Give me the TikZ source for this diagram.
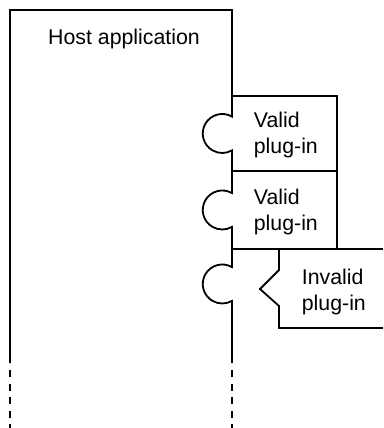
\documentclass[tikz,border=0pt]{standalone}
\usepackage{fontspec}
\setmainfont{Liberation Sans}
\begin{document}
\begin{tikzpicture}[x=1pt,y=-1pt,line width=1.8pt,font=\fontsize{21.3}{26}\selectfont,
    txt/.style={inner sep=0pt,align=left,anchor=base west},
    tail/.style={dash pattern=on 7pt off 6.5pt}]
    \useasboundingbox (0,0) rectangle (383,428);
    % host application with three sockets
    \draw (10,363) -- (10,10) -- (232,10)
        -- (232,116.6) arc[start angle=300,end angle=60,radius=19.5]
        -- (232,193.1) arc[start angle=300,end angle=60,radius=19.5]
        -- (232,267.1) arc[start angle=300,end angle=60,radius=19.5]
        -- (232,363);
    \draw[tail] (10,370) -- (10,428);
    \draw[tail] (232,370) -- (232,428);
    \node (host) [anchor=base] at (124,45) {Host application};
    % plug-ins
    \draw (232,96) -- (337,96) -- (337,249);
    \draw (232,171) -- (337,171);
    \draw (232,249) -- (383,249);
    \draw (279,249) -- (279,270) -- (260,289) -- (279,306) -- (279,328) -- (383,328);
    \node (valid1) [txt] at (253,153) {Valid\\plug-in};
    \node (valid2) [txt] at (253,230) {Valid\\plug-in};
    \node (invalid) [txt] at (301,310) {Invalid\\plug-in};
\end{tikzpicture}
\end{document}
